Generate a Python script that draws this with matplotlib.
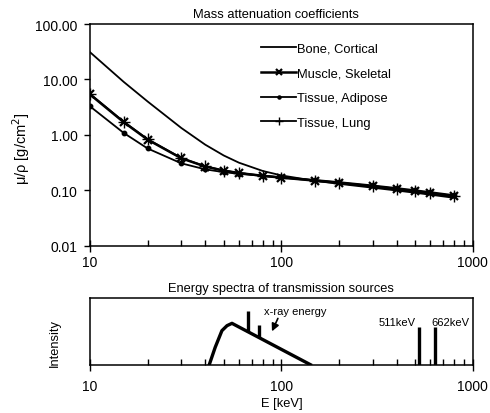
import numpy as np
import matplotlib
matplotlib.use("Agg")
import matplotlib.pyplot as plt
from matplotlib.ticker import LogLocator, FixedLocator, NullFormatter, NullLocator

plt.rcParams['font.family'] = ['Liberation Sans', 'DejaVu Sans']

# ---- data: mass attenuation coefficients (cm^2/g) ----
energy = [10, 15, 20, 30, 40, 50, 60, 80, 100, 150, 200, 300, 400, 500, 600, 800]
bone = [31.0, 9.03, 4.00, 1.331, 0.6655, 0.4242, 0.3148, 0.2229, 0.1855, 0.1480,
        0.1309, 0.1113, 0.09908, 0.09022, 0.08332, 0.07308]
muscle = [5.356, 1.693, 0.8205, 0.3783, 0.2685, 0.2262, 0.2048, 0.1823, 0.1693, 0.1492,
          0.1358, 0.1176, 0.1052, 0.09598, 0.08870, 0.07793]
adipose = [3.268, 1.083, 0.5677, 0.3064, 0.2387, 0.2122, 0.1980, 0.1821, 0.1716, 0.1535,
           0.1405, 0.1223, 0.1097, 0.1003, 0.09275, 0.08152]
lung = [5.475, 1.731, 0.8362, 0.3829, 0.2703, 0.2272, 0.2055, 0.1828, 0.1695, 0.1494,
        0.1360, 0.1177, 0.1052, 0.09606, 0.08874, 0.07797]
series_labels = ["Bone, Cortical", "Muscle, Skeletal", "Tissue, Adipose", "Tissue, Lung"]
y_ticks = [0.01, 0.1, 1, 10, 100]
y_tick_labels = ["0.01", "0.10", "1.00", "10.00", "100.00"]
x_ticks = [10, 100, 1000]
x_tick_labels = ["10", "100", "1000"]

# ---- data: energy spectra ----
spec_E = [42.0, 45.1, 48.9, 52.0, 55.2, 141.9]
spec_I = [0.0, 0.26, 0.51, 0.585, 0.62, 0.0]
xray_line_E = [66.7, 76.1]
xray_line_top = [0.80, 0.60]
gamma_E = [525, 635]
gamma_I = [0.56, 0.56]
gamma_labels = ["511keV", "662keV"]

FS = 9.3
fig = plt.figure(figsize=(4.9, 4.14), dpi=100)
ax = fig.add_axes([0.1837, 0.4041, 0.7810, 0.5355])
ax2 = fig.add_axes([0.1837, 0.1167, 0.7810, 0.1611])

# --- top plot ---
ax.plot(energy, bone, color='black', lw=1.3, label=series_labels[0])
ax.plot(energy, muscle, color='black', lw=1.8, marker='x', ms=6, mew=1.6, label=series_labels[1])
ax.plot(energy, adipose, color='black', lw=1.3, marker='o', ms=3.2, label=series_labels[2])
ax.plot(energy, lung, color='black', lw=1.3, marker='+', ms=8, mew=1.0, label=series_labels[3])
ax.set_yscale('log')
ax.set_ylim(0.01, 100)
ax.yaxis.set_major_locator(FixedLocator(y_ticks))
ax.yaxis.set_minor_locator(NullLocator())
ax.set_yticklabels(y_tick_labels)
ax.set_title("Mass attenuation coefficients", fontsize=FS, pad=5, x=0.487)
ax.set_ylabel("μ/ρ [g/cm$^2$]", fontsize=10.5)
ax.yaxis.set_label_coords(-0.151, 0.441)
leg = ax.legend(loc='upper left', bbox_to_anchor=(0.417, 0.968), frameon=False,
                fontsize=FS, handlelength=2.7, handletextpad=0.05, labelspacing=0.98,
                markerscale=0.7)

for a in (ax, ax2):
    a.set_xscale('log')
    a.set_xlim(10, 1000)
    a.xaxis.set_major_locator(FixedLocator(x_ticks))
    a.set_xticklabels(x_tick_labels)
    a.xaxis.set_minor_locator(LogLocator(base=10, subs=np.arange(2, 10)))
    a.xaxis.set_minor_formatter(NullFormatter())
    a.tick_params(axis='x', which='major', direction='inout', length=8, width=1.0,
                  labelsize=10, pad=3)
    a.tick_params(axis='x', which='minor', direction='in', length=4, width=1.0)
    for s in a.spines.values():
        s.set_linewidth(1.1)

ax.tick_params(axis='y', which='major', direction='out', length=4, width=1.0,
               labelsize=10, pad=5)

# --- bottom plot ---
ax2.plot(spec_E, spec_I, color='black', lw=2.4, solid_joinstyle='round')
base = np.interp(np.log10(xray_line_E), np.log10(spec_E[4:]), spec_I[4:])
ax2.vlines(xray_line_E, base, xray_line_top, color='black', lw=2.4)
ax2.vlines(gamma_E, 0, gamma_I, color='black', lw=2.4)
ax2.set_ylim(0, 1)
ax2.yaxis.set_major_locator(NullLocator())
ax2.set_title("Energy spectra of transmission sources", fontsize=FS, pad=5)
ax2.set_ylabel("Intensity", fontsize=FS)
ax2.yaxis.set_label_coords(-0.0757, 0.34)
ax2.set_xlabel("E [keV]", fontsize=FS, labelpad=3)
ax2.tick_params(axis='x', which='major', pad=6)
ax2.annotate("x-ray energy", xy=(89.3, 0.50), xytext=(80.7, 0.81),
             fontsize=8, ha='left', va='center',
             arrowprops=dict(arrowstyle='-|>', color='black', lw=1.2, mutation_scale=11,
                             shrinkA=0, shrinkB=0, relpos=(0.25, 0.0)))
ax2.text(503, 0.64, gamma_labels[0], fontsize=8, ha='right', va='center')
ax2.text(610, 0.64, gamma_labels[1], fontsize=8, ha='left', va='center')

fig.savefig("out.png", dpi=100)
